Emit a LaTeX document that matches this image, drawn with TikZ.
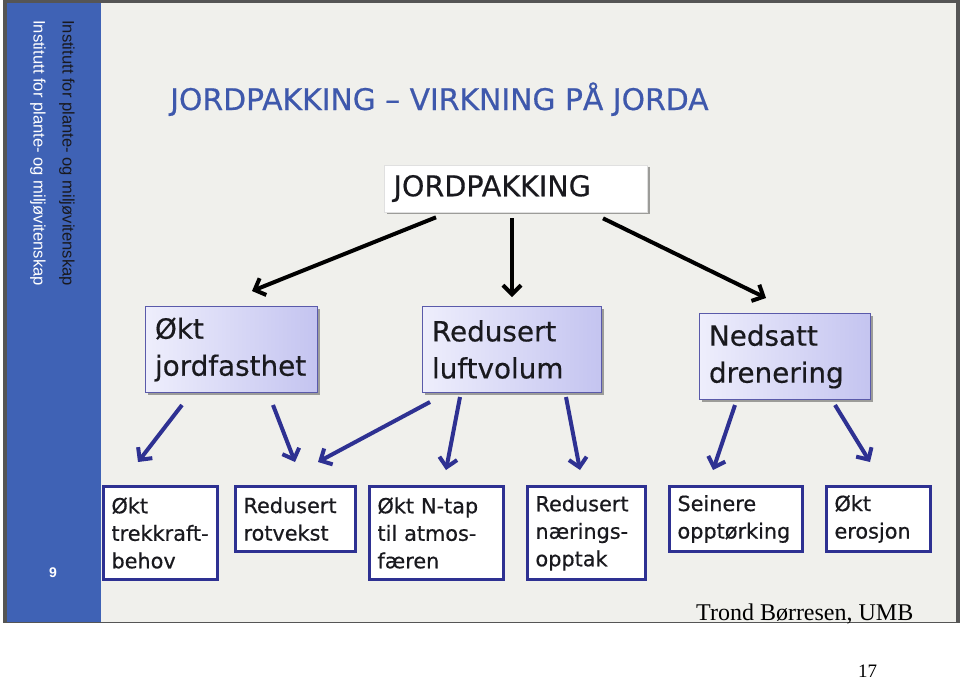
\documentclass[tikz,border=0pt]{standalone}
\usepackage{fontspec}
\setmainfont{Liberation Serif}
\newfontfamily\tah[FakeBold=0.5]{DejaVu Sans}
\newfontfamily\arl{Liberation Sans}
\usetikzlibrary{arrows.meta,shadows,calc}
\definecolor{sideblue}{RGB}{63,98,181}
\definecolor{titleblue}{RGB}{62,88,172}
\definecolor{navy}{RGB}{46,49,146}
\definecolor{slidebg}{RGB}{240,240,236}
\definecolor{framegray}{RGB}{85,85,85}
\definecolor{midborder}{RGB}{90,90,170}
\definecolor{lavL}{RGB}{238,238,252}
\definecolor{lavR}{RGB}{196,196,240}
\definecolor{textdark}{RGB}{25,25,30}
\begin{document}
\begin{tikzpicture}[x=1pt,y=-1pt,
  topbox/.style={fill=white, draw=black!12, line width=0.6pt, inner xsep=9pt, inner ysep=0pt,
    minimum height=47pt, text width=#1, align=left, text=textdark,
    font=\tah\fontsize{28.6}{34}\selectfont,
    drop shadow={shadow xshift=2pt, shadow yshift=-2pt, opacity=0.35, fill=black}},
  midbox/.style={left color=lavL, right color=lavR, draw=midborder, line width=1pt,
    inner xsep=9.5pt, inner ysep=0pt, minimum height=86pt, text width=#1, align=left, text=textdark,
    font=\tah\fontsize{27.8}{37}\selectfont,
    drop shadow={shadow xshift=2pt, shadow yshift=-2pt, opacity=0.35, fill=black}},
  botbox/.style={fill=white, draw=navy, line width=3pt, inner xsep=8pt, inner ysep=0pt,
    text width=#1, align=left, text=textdark, font=\tah\fontsize{20.8}{27.5}\selectfont},
  blackarrow/.style={line width=4pt, draw=black, -{Straight Barb[length=9pt,width=18pt]}},
  bluearrow/.style={line width=4pt, draw=navy, -{Straight Barb[length=9pt,width=18pt]}}
]
\useasboundingbox (0,0) rectangle (960,681);
\fill[white] (0,0) rectangle (960,681);
% slide frame and background
\fill[framegray] (3,0) rectangle (960,623);
\fill[slidebg] (7,3) rectangle (956,622);
\fill[sideblue] (7,3) rectangle (101,622);
% sidebar texts
\node[rotate=-90, anchor=south west, inner sep=0pt, text=textdark, font=\arl\fontsize{16.6}{19}\selectfont]
  (side1) at (59,20) {Institutt for plante- og miljøvitenskap};
\node[rotate=-90, anchor=south west, inner sep=0pt, text=white, font=\arl\fontsize{16.6}{19}\selectfont]
  (side2) at (30,20) {Institutt for plante- og miljøvitenskap};
\node[text=white, font=\arl\bfseries\fontsize{14}{16}\selectfont, inner sep=0pt] (pagenum) at (53,573) {9};
% title
\node[anchor=base west, inner sep=0pt, text=titleblue, font=\tah\fontsize{29.8}{34}\selectfont]
  (title) at (170,110) {JORDPAKKING – VIRKNING PÅ JORDA};
% top box
\node[topbox=245pt] (top) at (516,188.5) {JORDPAKKING};
% middle boxes
\node[midbox=153pt] (m1) at (231.5,349.5) {Økt\\jordfasthet};
\node[midbox=160pt] (m2) at (512,349.5) {Redusert\\luftvolum};
\node[midbox=152pt] (m3) at (785,356.5) {Nedsatt\\drenering};
% bottom boxes
\node[botbox=98pt, minimum height=93pt] (b1) at (160.5,533) {Økt\\trekkraft-\\behov};
\node[botbox=104pt, minimum height=65pt] (b2) at (295.5,519) {Redusert\\rotvekst};
\node[botbox=118pt, minimum height=93pt] (b3) at (436.5,533) {Økt N-tap\\til atmos-\\færen};
\node[botbox=102pt, minimum height=93pt] (b4) at (586.5,533) {Redusert\\nærings-\\opptak};
\node[botbox=117pt, minimum height=65pt] (b5) at (736,519) {Seinere\\opptørking};
\node[botbox=88pt, minimum height=65pt] (b6) at (878.5,519) {Økt\\erosjon};
% black arrows
\draw[blackarrow] ($(top.south)+(-80,5)$) -- ($(m1.north)+(20.5,-15)$);
\draw[blackarrow] ($(top.south)+(-4,6)$) -- ($(m2.north)+(0,-9)$);
\draw[blackarrow] ($(top.south)+(87,6)$) -- ($(m3.north)+(-19,-15)$);
% blue arrows
\draw[bluearrow] ($(m1.south)+(-49.5,12)$) -- ($(b1.north)+(-22.5,-23)$);
\draw[bluearrow] ($(m1.south)+(41.5,12)$) -- ($(b2.north)+(-0.5,-23)$);
\draw[bluearrow] ($(m2.south)+(-82,9)$) -- ($(b2.north)+(22.5,-23)$);
\draw[bluearrow] ($(m2.south)+(-52,4)$) -- ($(b3.north)+(9.5,-15)$);
\draw[bluearrow] ($(m2.south)+(54,4)$) -- ($(b4.north)+(-6.5,-15)$);
\draw[bluearrow] ($(m3.south)+(-50,5)$) -- ($(b5.north)+(-23,-15)$);
\draw[bluearrow] ($(m3.south)+(50,5)$) -- ($(b6.north)+(-8.5,-23)$);
% footer
\node[anchor=base west, inner sep=0pt, font=\fontsize{24}{28}\selectfont] (author) at (696,620) {Trond Børresen, UMB};
\node[anchor=base west, inner sep=0pt, font=\fontsize{19}{22}\selectfont] (pageno) at (858,677) {17};
\end{tikzpicture}
\end{document}
